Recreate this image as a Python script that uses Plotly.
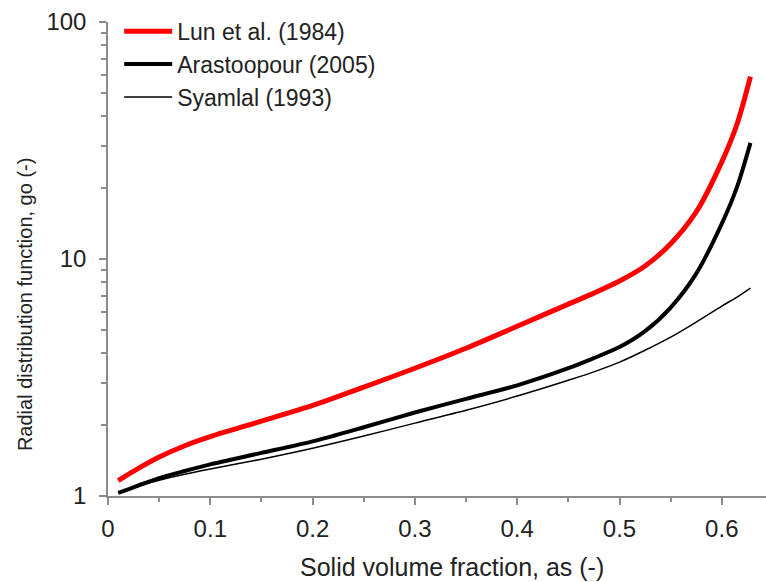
import plotly.graph_objects as go

# Solid volume fraction sample points
alpha_s = [0.01, 0.03, 0.05, 0.075, 0.1, 0.15, 0.2, 0.25, 0.3, 0.35, 0.4,
           0.45, 0.475, 0.5, 0.525, 0.55, 0.575, 0.6, 0.615, 0.628]

# Radial distribution function values for each model
g0_lun = [1.16, 1.31, 1.46, 1.63, 1.78, 2.07, 2.41, 2.88, 3.46, 4.20, 5.20,
          6.45, 7.18, 8.07, 9.34, 11.6, 15.8, 25.7, 37.2, 58.8]
g0_arastoopour = [1.03, 1.11, 1.19, 1.275, 1.36, 1.52, 1.70, 1.95, 2.25, 2.57, 2.93,
                  3.46, 3.82, 4.25, 4.96, 6.24, 8.68, 14.1, 20.2, 30.9]
g0_syamlal = [1.03, 1.10, 1.165, 1.235, 1.30, 1.43, 1.59, 1.79, 2.03, 2.30, 2.64,
              3.08, 3.34, 3.67, 4.12, 4.68, 5.42, 6.33, 6.91, 7.54]

series_names = ["Lun et al. (1984)", "Arastoopour (2005)", "Syamlal (1993)"]
x_ticks = [0, 0.1, 0.2, 0.3, 0.4, 0.5, 0.6]
y_ticks = [1, 10, 100]

FONT = "Liberation Sans, Arial, sans-serif"
TXT = "#222222"
AX = "#8c8c8c"

fig = go.Figure()
styles = [("#ff0000", 5), ("#000000", 4), ("#000000", 1.5)]
for name, ys, (col, w), grp in zip(series_names,
                                   [g0_lun, g0_arastoopour, g0_syamlal],
                                   styles, ["a", "b", "c"]):
    fig.add_trace(go.Scatter(
        x=alpha_s, y=ys, mode="lines", name=name, legendgroup=grp,
        line=dict(color=col, width=w, shape="spline", smoothing=0.8),
    ))

fig.update_layout(
    width=766, height=582,
    margin=dict(l=108, r=0, t=22, b=86),
    paper_bgcolor="white", plot_bgcolor="white",
    font=dict(family=FONT, color=TXT, size=23),
    showlegend=True,
    legend=dict(
        x=0.017, y=1.026, xanchor="left", yanchor="top",
        bgcolor="rgba(0,0,0,0)", borderwidth=0,
        font=dict(family=FONT, size=23, color=TXT),
        tracegroupgap=0, itemwidth=48,
    ),
    xaxis=dict(
        range=[0, 0.6432], showline=True, linecolor=AX, linewidth=1.5,
        showgrid=False, zeroline=False,
        tickmode="array", tickvals=x_ticks,
        ticktext=[("%g" % v) for v in x_ticks],
        ticks="outside", ticklen=7, tickwidth=1.5, tickcolor=AX,
        ticklabelstandoff=3,
        minor=dict(ticks="outside", ticklen=4, tickwidth=1.5, tickcolor=AX,
                   dtick=0.05, showgrid=False),
        tickfont=dict(family=FONT, size=24, color=TXT),
    ),
    yaxis=dict(
        type="log", range=[0, 2], showline=True, linecolor=AX, linewidth=1.5,
        showgrid=False, zeroline=False,
        tickmode="array", tickvals=y_ticks,
        ticktext=[str(v) for v in y_ticks],
        ticks="outside", ticklen=7, tickwidth=1.5, tickcolor=AX,
        ticklabelstandoff=8,
        minor=dict(ticks="outside", ticklen=5, tickwidth=1.5, tickcolor=AX,
                   dtick="D1", showgrid=False),
        tickfont=dict(family=FONT, size=24, color=TXT),
    ),
    annotations=[
        dict(text="Solid volume fraction, as (-)", xref="paper", yref="paper",
             x=0.523, y=-0.15, xanchor="center", yanchor="middle",
             showarrow=False, font=dict(family=FONT, size=25, color=TXT)),
        dict(text="Radial distribution function, go (-)", xref="paper", yref="paper",
             x=-0.126, y=0.403, xanchor="center", yanchor="middle", textangle=-90,
             showarrow=False, font=dict(family=FONT, size=20, color=TXT)),
    ],
)

fig.write_html("out.html")
